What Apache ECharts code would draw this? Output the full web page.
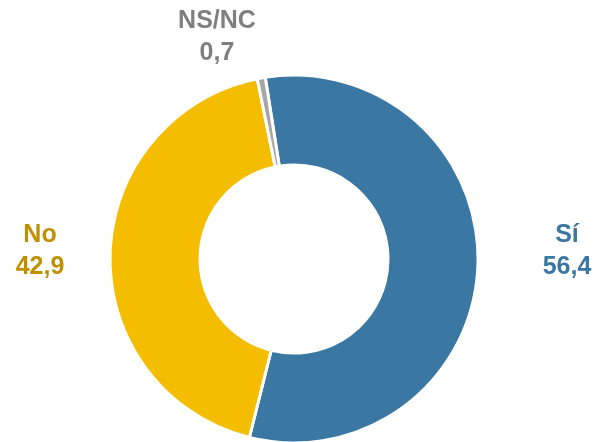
<!DOCTYPE html>
<html>
<head>
<meta charset="utf-8">
<script src="https://cdn.jsdelivr.net/npm/echarts@6/dist/echarts.min.js"></script>
<style>
  html, body { margin: 0; padding: 0; background: #fff; }
  #chart { width: 598px; height: 442px; }
</style>
</head>
<body>
<div id="chart"></div>
<script>
// answers and shares (%)
const categories = ['Sí', 'No', 'NS/NC'];
const values = [56.4, 42.9, 0.7];
const sliceColors = ['#3A77A2', '#F5BD00', '#A6A6A6'];
const labelColors = ['#3A77A2', '#BF9000', '#7F7F7F'];

// where each label sits (centre of the text block)
const labelPos = [[567, 251], [40, 251], [217, 37]];

const chart = echarts.init(document.getElementById('chart'));

chart.setOption({
  animation: false,
  series: [{
    type: 'pie',
    center: [294, 259],
    radius: [94, 184],
    startAngle: 99,
    clockwise: true,
    avoidLabelOverlap: false,
    itemStyle: { borderColor: '#fff', borderWidth: 3 },
    label: {
      show: true,
      fontFamily: 'Liberation Sans, Arial, sans-serif',
      fontSize: 25,
      fontWeight: 'bold',
      lineHeight: 32,
      align: 'center',
      verticalAlign: 'middle',
      formatter: p => p.name + '\n' + p.value.toFixed(1).replace('.', ',')
    },
    labelLine: { show: false },
    labelLayout: p => ({
      x: labelPos[p.dataIndex][0],
      y: labelPos[p.dataIndex][1],
      align: 'center',
      verticalAlign: 'middle'
    }),
    data: categories.map((c, i) => ({
      name: c,
      value: values[i],
      itemStyle: { color: sliceColors[i] },
      label: { color: labelColors[i] }
    }))
  }]
});
</script>
</body>
</html>
